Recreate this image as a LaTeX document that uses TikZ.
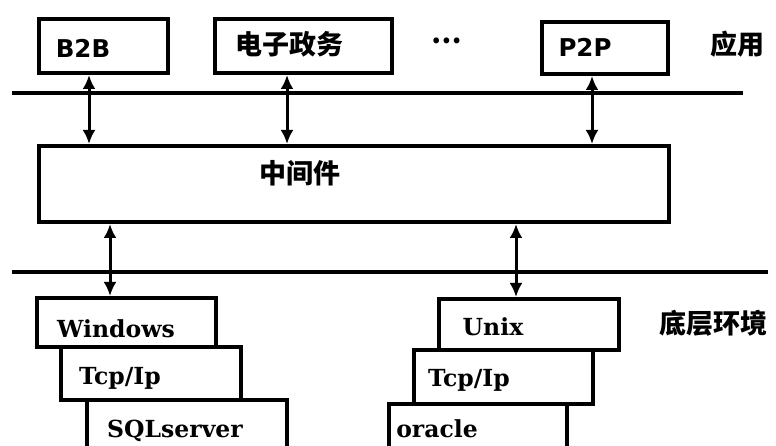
\documentclass[tikz,border=0pt]{standalone}
\usepackage{fontspec}
\setmainfont{DejaVu Serif}
\newfontfamily\cjk{Noto Sans CJK SC}
\newfontfamily\latsans{DejaVu Sans}
\usetikzlibrary{arrows.meta,calc}

\tikzset{
  box/.style={draw, line width=4pt, fill=white, rectangle, inner sep=0pt, anchor=north west},
  biarrow/.style={line width=3pt, arrows={Latex[length=14pt,width=13pt]-Latex[length=14pt,width=13pt]}},
  rule/.style={line width=3.5pt},
  applabel/.style={font=\latsans\bfseries\fontsize{24.5}{28}\selectfont, inner sep=0pt, anchor=base},
  cjklabel/.style={font=\cjk\bfseries\fontsize{27}{30}\selectfont, inner sep=0pt},
  oslabel/.style={font=\bfseries\fontsize{23.5}{28}\selectfont, inner sep=0pt, anchor=base},
}

\begin{document}
\begin{tikzpicture}[x=1pt,y=-1pt]
\useasboundingbox (0,0) rectangle (776,446);

% layer separators
\coordinate (r1a) at (12,93);  \coordinate (r1b) at (743,93);
\coordinate (r2a) at (12,272); \coordinate (r2b) at (768,272);
\draw[rule] (r1a) -- (r1b);
\draw[rule] (r2a) -- (r2b);

% application layer
\node[box, minimum width=129pt, minimum height=54pt] (b2b) at (37,17) {};
\node[box, minimum width=177pt, minimum height=54pt] (egov) at (213,17) {};
\node[box, minimum width=126pt, minimum height=52pt] (p2p) at (540,20) {};
\node[applabel] (tb2b) at (83,58) {B2B};
\node[cjklabel] (tegov) at (289,44) {电子政务};
\node[cjklabel] (tdots) at (447,41) {…};
\node[applabel] (tp2p) at (585,57) {P2P};
\node[cjklabel] (tapp) at (737,44) {应用};

% middleware
\node[box, minimum width=630pt, minimum height=76pt] (mw) at (37,144) {};
\node[cjklabel] (tmw) at (300,173) {中间件};

% platform stacks
\node[box, minimum width=179pt, minimum height=49pt] (win) at (35,296) {};
\node[box, minimum width=180pt, minimum height=53pt] (tcpl) at (59,345) {};
\node[box, minimum width=200pt, minimum height=60pt] (sql) at (85,398) {};
\node[box, minimum width=180pt, minimum height=51pt] (unix) at (437,297) {};
\node[box, minimum width=179pt, minimum height=54pt] (tcpr) at (412,348) {};
\node[box, minimum width=178pt, minimum height=60pt] (ora) at (387,402) {};

\node[oslabel] (twin) at (116,337) {Windows};
\node[oslabel] (ttcpl) at (120,384) {Tcp/Ip};
\node[oslabel] (tsql) at (175,437) {SQLserver};
\node[oslabel] (tunix) at (493,335) {Unix};
\node[oslabel] (ttcpr) at (469,386) {Tcp/Ip};
\node[oslabel] (tora) at (437,437) {oracle};
\node[cjklabel] (tbase) at (713,323) {底层环境};

% links
\coordinate (xa) at (89,0);
\coordinate (xb) at (287,0);
\coordinate (xc) at (592,0);
\coordinate (xd) at (110,0);
\coordinate (xe) at (516,0);
\draw[biarrow] (b2b.south -| xa) -- (mw.north -| xa);
\draw[biarrow] (egov.south -| xb) -- (mw.north -| xb);
\draw[biarrow] (p2p.south -| xc) -- (mw.north -| xc);
\draw[biarrow] (mw.south -| xd) -- (win.north -| xd);
\draw[biarrow] (mw.south -| xe) -- (unix.north -| xe);
\end{tikzpicture}
\end{document}
